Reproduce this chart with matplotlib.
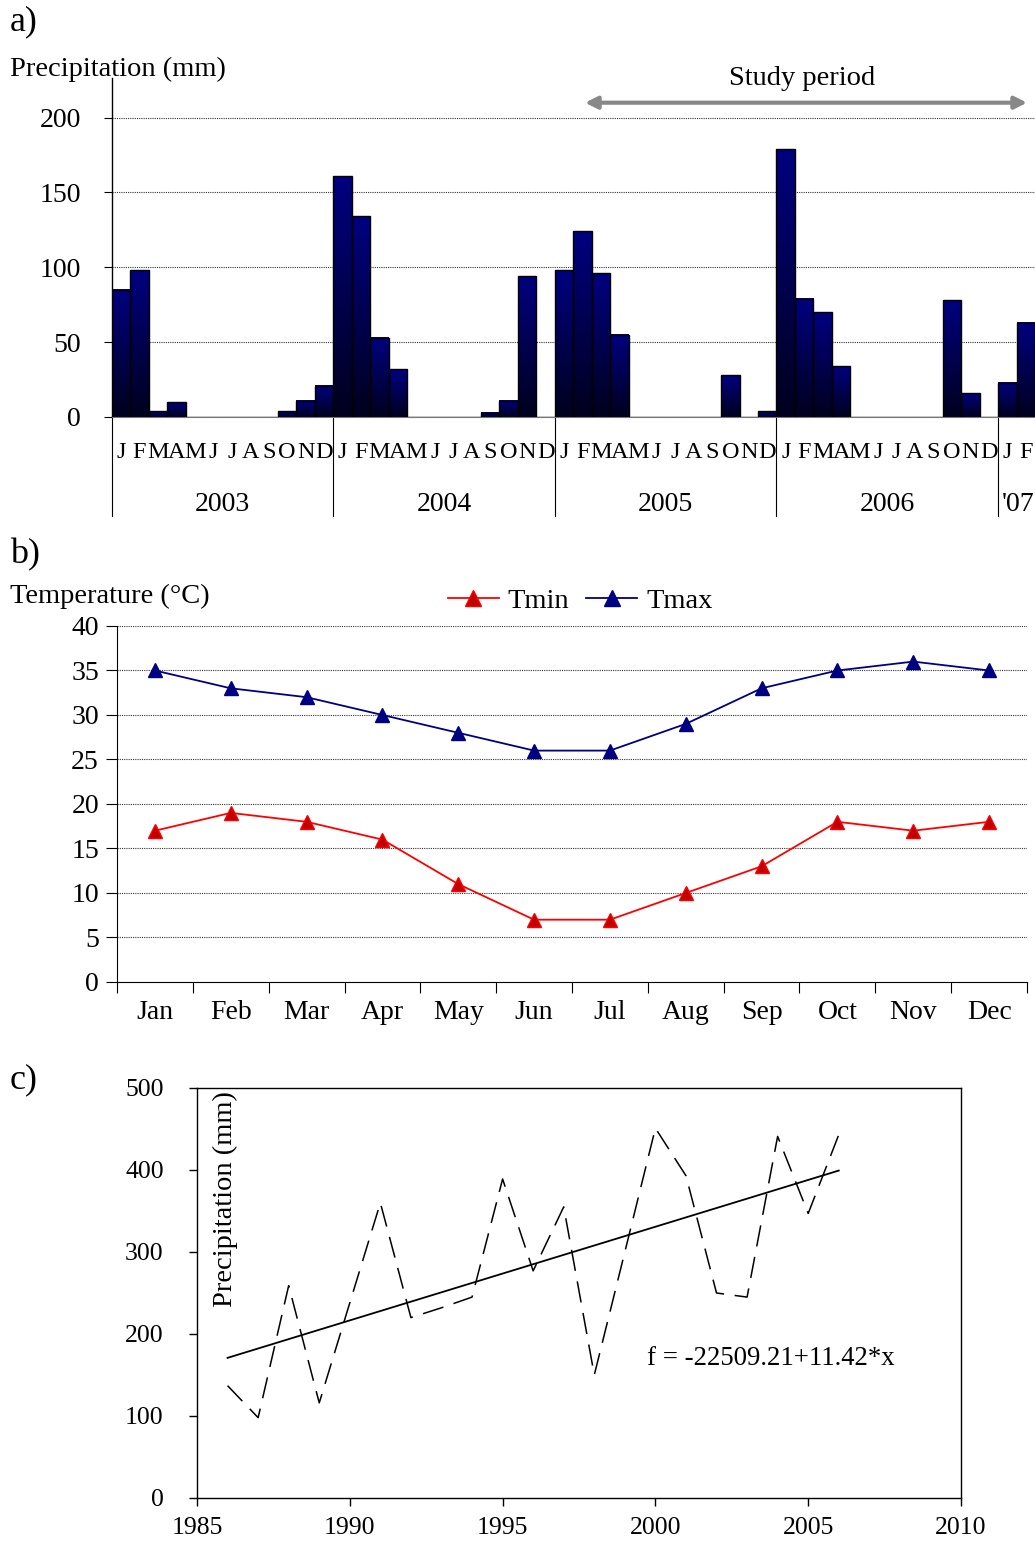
import numpy as np
import matplotlib
matplotlib.use("Agg")
import matplotlib.pyplot as plt
from matplotlib.colors import LinearSegmentedColormap

plt.rcParams['font.family'] = ['Liberation Serif', 'DejaVu Serif']

# --- DADOS ---
# a) precipitacao mensal (mm), jan/2003 - fev/2007
precip_2003 = [85, 98, 4, 10, 0, 0, 0, 0, 0, 4, 11, 21]
precip_2004 = [161, 134, 53, 32, 0, 0, 0, 0, 3, 11, 94, 0]
precip_2005 = [98, 124, 96, 55, 0, 0, 0, 0, 0, 28, 0, 4]
precip_2006 = [179, 79, 70, 34, 0, 0, 0, 0, 0, 78, 16, 0]
precip_2007 = [23, 63]
letras_meses = ['J', 'F', 'M', 'A', 'M', 'J', 'J', 'A', 'S', 'O', 'N', 'D']
anos_rotulos = ['2003', '2004', '2005', '2006', "'07"]

# b) temperatura media mensal
meses = ['Jan', 'Feb', 'Mar', 'Apr', 'May', 'Jun', 'Jul', 'Aug', 'Sep', 'Oct', 'Nov', 'Dec']
tmin = [17, 19, 18, 16, 11, 7, 7, 10, 13, 18, 17, 18]
tmax = [35, 33, 32, 30, 28, 26, 26, 29, 33, 35, 36, 35]

# c) precipitacao anual
anos = [1986, 1987, 1988, 1989, 1990, 1991, 1992, 1993, 1994, 1995, 1996,
        1997, 1998, 1999, 2000, 2001, 2002, 2003, 2004, 2005, 2006]
precip_anual = [137, 98, 259, 116, 238, 360, 220, 232, 245, 389, 277,
                355, 150, 300, 451, 393, 250, 245, 441, 347, 443]
coef_a, coef_b = -22509.21, 11.42

W, H = 1035, 1542
fig = plt.figure(figsize=(W / 100, H / 100), dpi=100)


def px_axes(left, right, top, bottom):
    return fig.add_axes([left / W, 1 - bottom / H, (right - left) / W, (bottom - top) / H])


FS = 20        # ticks a/b
FS_LAB = 20.5  # rotulos
FS_C = 18.5    # ticks c
FS_PAINEL = 26
grid_kw = dict(color='#333333', linestyle=(0, (1, 1)), linewidth=0.8)

# --- a) ---
precip = precip_2003 + precip_2004 + precip_2005 + precip_2006 + precip_2007
n = len(precip)
x = np.arange(n)
axa = px_axes(111.7, 1035, 78, 417)
for y in [50, 100, 150, 200]:
    axa.axhline(y, zorder=0, **grid_kw)

cmap = LinearSegmentedColormap.from_list('azul', ['#00001e', '#000080'])
grad = np.linspace(0, 1, 256).reshape(-1, 1)
for xi, v in zip(x, precip):
    if v <= 0:
        continue
    axa.imshow(grad, extent=[xi - 0.5, xi + 0.5, 0, v], origin='lower',
               cmap=cmap, aspect='auto', zorder=2)
axa.bar(x, precip, width=1.0, facecolor='none', edgecolor='black', linewidth=1.0, zorder=3)
axa.set_xlim(-0.5, n - 0.5)
axa.set_ylim(0, 226.5)

axa.set_yticks([0, 50, 100, 150, 200])
axa.tick_params(axis='y', direction='out', length=6, width=0.8, pad=16, labelsize=FS)
axa.set_xticks([])
for s in ['top', 'right']:
    axa.spines[s].set_visible(False)
axa.spines['bottom'].set_color('#777777')
axa.spines['left'].set_linewidth(1.0)

trans = axa.get_xaxis_transform()
for xi in x:
    axa.text(xi, -0.106, letras_meses[xi % 12], transform=trans, ha='center',
             va='center', fontsize=17.5)
limites = [-0.5, 11.5, 23.5, 35.5, 47.5]
for b in limites:
    axa.plot([b, b], [0, -0.292], transform=trans, color='black', lw=0.8, clip_on=False)
centros = [5.5, 17.5, 29.5, 41.5, 48.6]
for c, rot in zip(centros, anos_rotulos):
    axa.text(c, -0.257, rot, transform=trans, ha='center', va='center', fontsize=FS)

axa.annotate('', xy=(49.07, 210), xytext=(25.13, 210), annotation_clip=False,
             arrowprops=dict(arrowstyle='<|-|>', color='#888888', lw=3,
                             mutation_scale=18, shrinkA=0, shrinkB=0))
axa.text(36.88, 226, 'Study period', ha='center', va='center', fontsize=FS_LAB, clip_on=False)

fig.text(10 / W, 1 - 22 / H, 'a)', fontsize=FS_PAINEL, va='center', ha='left')
fig.text(10 / W, 1 - 69 / H, 'Precipitation (mm)', fontsize=FS_LAB, va='center', ha='left')

# --- b) ---
axb = px_axes(117, 1027, 626, 982)
xm = np.arange(12)
axb.set_xlim(-0.5, 11.5)
axb.set_ylim(0, 40)
for y in range(5, 45, 5):
    axb.axhline(y, zorder=0, **grid_kw)
axb.plot(xm, tmin, color='red', lw=1.3, marker='^', ms=10,
         markerfacecolor='#c00000', markeredgecolor='red', label='Tmin')
axb.plot(xm, tmax, color='#000080', lw=1.3, marker='^', ms=10,
         markerfacecolor='#000080', markeredgecolor='#000080', label='Tmax')
axb.set_yticks(range(0, 45, 5))
axb.set_xticks(np.arange(-0.5, 12, 1))
axb.set_xticklabels([])
axb.set_xticks(xm, labels=meses, minor=True)
axb.tick_params(axis='x', which='major', direction='out', length=8, width=0.8)
axb.tick_params(axis='x', which='minor', length=0, pad=13, labelsize=FS)
axb.tick_params(axis='y', direction='out', length=8, width=0.8, pad=5, labelsize=FS)
for s in ['top', 'right']:
    axb.spines[s].set_visible(False)
axb.legend(loc='center', bbox_to_anchor=(580 / W, 1 - 601 / H), bbox_transform=fig.transFigure,
           ncol=2, frameon=False, fontsize=FS_LAB, handlelength=1.8, handletextpad=0.3,
           columnspacing=0.6, markerscale=1.1)

fig.text(10 / W, 1 - 555 / H, 'b)', fontsize=FS_PAINEL, va='center', ha='left')
fig.text(10 / W, 1 - 596 / H, 'Temperature (°C)', fontsize=FS_LAB, va='center', ha='left')

# --- c) ---
axc = px_axes(197, 961, 1088, 1498)
axc.plot(anos, precip_anual, color='black', lw=1.1, dashes=(14, 7))
anos_np = np.array([anos[0], anos[-1]])
axc.plot(anos_np, coef_a + coef_b * anos_np, color='black', lw=1.3)
axc.set_xlim(1985, 2010)
axc.set_ylim(0, 500)
axc.set_xticks(range(1985, 2011, 5))
axc.set_yticks(range(0, 501, 100))
axc.tick_params(direction='out', length=6, width=1.0, labelsize=FS_C)
axc.tick_params(axis='y', pad=18)
axc.tick_params(axis='x', pad=8)
for s in axc.spines.values():
    s.set_linewidth(1.0)
axc.text(0.037, 0.729, 'Precipitation (mm)', transform=axc.transAxes, rotation=90,
         ha='center', va='center', fontsize=FS_LAB)
axc.text(1999.73, 170.7, 'f = -22509.21+11.42*x', ha='left', va='center', fontsize=19.3)

fig.text(10 / W, 1 - 1080 / H, 'c)', fontsize=FS_PAINEL, va='center', ha='left')

fig.savefig('out.png', dpi=100)
